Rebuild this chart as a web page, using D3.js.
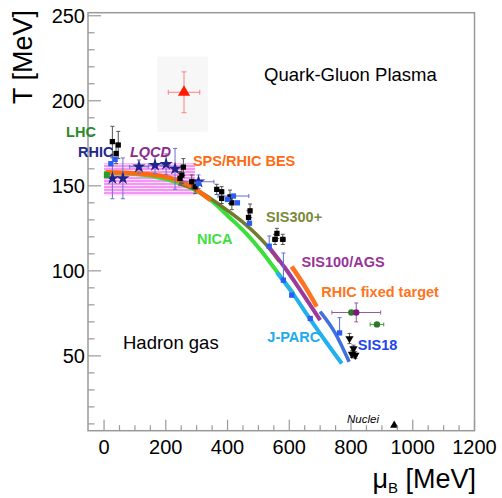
<!DOCTYPE html>
<html><head><meta charset="utf-8">
<script src="https://cdn.jsdelivr.net/npm/d3@7"></script>
<style>body{margin:0;background:#fff}svg{display:block;font-family:"Liberation Sans",Arial,Helvetica,sans-serif}</style>
</head><body><div id="chart"></div>
<script>
// ---------- data ----------
const xTicks = [0, 200, 400, 600, 800, 1000, 1200];
const yTicks = [50, 100, 150, 200, 250];
// freeze-out / facility curves  [muB, T]
const curveNICA   = [[0,157.5],[100,157],[200,154],[295,147.5],[350,141],[403,132],[460,122],[510,111.5],[554,101],[614,86.5]];
const curveSIS300 = [[250,151],[300,147.5],[392,136.5],[457,127.5],[522,116],[568,105.5]];
const curveBES    = [[5,158],[133,157],[219,154.4],[284,149.5],[327,144],[345,141.5]];
const curveSIS100 = [[530,115],[587,101.5],[640,87.5],[700,71]];
const curveRHICFT = [[608,102.5],[650,91],[689,79]];
const curveJPARC  = [[560,99],[610,87],[668,71.5],[720,58],[770,45.5]];
const curveSIS18  = [[700,76],[750,63],[794,46.5]];
// LQCD band [muMin, muMax, Tmin, Tmax]
const lqcdBand = [0, 295, 144.5, 163.2];
// points: [muB, T, muErr, TerrLow, TerrHigh]
const lqcdStars = [[27,154.4,0,12,12],[61,154.4,0,12,12],[113,161.2,30,4,4],[165,162.2,20,5,5],[201,162.8,12,6,6],[230,160,0,12,12],[306,152.4,50,4,4]];
const blueSquares = [[22,163,0,0,0],[36,165.5,0,0,0],[306,151.4,0,0,0],[400,142,0,0,0],[419,144,50,0,0],[432,140,0,0,0],[471,128,0,0,0],[535,114.5,0,0,6],[581,94.5,0,0,16],[608,85.7,0,0,0],[668,72,0,0,0],[763,63.5,0,0,9]];
const blackPoints = [[27,176,0,9,9],[39,169,0,6,6],[46,174,0,8,8],[246,154.4,0,4,4],[252,156.3,0,5,5],[257,161,0,5,5],[284,152.4,0,4,4],[295,149.4,0,4,4],[365,147.9,0,3,3],[381,146.5,0,3,3],[381,142.6,0,3,3],[408,143.5,0,4,4],[414,140,0,4,4],[473,135.3,0,4,4],[468,131.4,0,4,4],[560,122,0,3,3],[554,118.5,8,3,3],[579,118.5,8,3,3]];
const blackTriangles = [[795,60.2,0,3,3],[803,51,5,2,2],[808,54.3,5,2,2],[814,50.4,5,2,2]];
const greenPoints = [[9,156.3,0,0,0],[801,75.5,0,0,0],[884,68.5,22,0,0]];
const purplePoints = [[817,75.5,79,5.5,5.6]];
const redPoint = [[259,205,51,12,12]];
const nucleiPoint = [[940,9.2]];

// ---------- layout ----------
const W = 502, H = 498;
const L = 88, R = 474.5, T0 = 12.7, B = 430.7;
const svg = d3.select("#chart").append("svg").attr("width", W).attr("height", H);
const x = d3.scaleLinear().domain([-52, 1200]).range([L, R]);
const y = d3.scaleLinear().domain([6, 251.8]).range([B, T0]);

const defs = svg.append("defs");
const pat = defs.append("pattern").attr("id","hatch").attr("patternUnits","userSpaceOnUse").attr("width",6).attr("height",3);
pat.append("rect").attr("width",6).attr("height",3).attr("fill","#fcdffc");
pat.append("line").attr("x1",0).attr("x2",6).attr("y1",1).attr("y2",1).attr("stroke","#ee4cee").attr("stroke-width",1);

// legend-like pad behind red point
svg.append("rect").attr("x", x(172)).attr("y", y(226)).attr("width", x(336)-x(172)).attr("height", y(181.8)-y(226)).attr("fill","#f7f7f7");

// LQCD band
svg.append("rect").attr("x", x(lqcdBand[0])).attr("y", y(lqcdBand[3]))
  .attr("width", x(lqcdBand[1]) - x(lqcdBand[0])).attr("height", y(lqcdBand[2]) - y(lqcdBand[3]))
  .attr("fill","url(#hatch)");

// curves
const line = d3.line().x(d => x(d[0])).y(d => y(d[1])).curve(d3.curveMonotoneX);
const curveDefs = [
  [curveNICA, "#39e039", 4],
  [curveSIS300, "#717a30", 3.5],
  [curveBES, "#ff6a10", 4.5],
  [curveSIS100, "#9b3a9b", 4],
  [curveRHICFT, "#ff7420", 4.5],
  [curveJPARC, "#22b0ee", 4],
  [curveSIS18, "#3f6fe0", 3.5]
];
curveDefs.forEach(([data, col, w]) => {
  svg.append("path").datum(data).attr("d", line).attr("fill","none").attr("stroke", col).attr("stroke-width", w).attr("stroke-linecap","butt");
});

// error bars helper
function errBars(data, col, cap = 2) {
  const g = svg.append("g").attr("stroke", col).attr("stroke-width", 1).attr("fill","none");
  data.forEach(d => {
    const cx = x(d[0]), cy = y(d[1]);
    if (d[2]) {
      g.append("line").attr("x1", x(d[0]-d[2])).attr("x2", x(d[0]+d[2])).attr("y1", cy).attr("y2", cy);
      g.append("line").attr("x1", x(d[0]-d[2])).attr("x2", x(d[0]-d[2])).attr("y1", cy-cap).attr("y2", cy+cap);
      g.append("line").attr("x1", x(d[0]+d[2])).attr("x2", x(d[0]+d[2])).attr("y1", cy-cap).attr("y2", cy+cap);
    }
    if (d[3] || d[4]) {
      const lo = y(d[1]-(d[3]||0)), hi = y(d[1]+(d[4]||0));
      g.append("line").attr("x1", cx).attr("x2", cx).attr("y1", lo).attr("y2", hi);
      if (d[3]) g.append("line").attr("x1", cx-cap).attr("x2", cx+cap).attr("y1", lo).attr("y2", lo);
      if (d[4]) g.append("line").attr("x1", cx-cap).attr("x2", cx+cap).attr("y1", hi).attr("y2", hi);
    }
  });
}
function markers(data, type, size, col, rot = 0) {
  svg.append("g").selectAll("path").data(data).join("path")
    .attr("transform", d => `translate(${x(d[0])},${y(d[1])}) rotate(${rot})`)
    .attr("d", d3.symbol().type(type).size(size)).attr("fill", col);
}

errBars(lqcdStars, "#6f6fd0");
errBars(blackPoints, "#555");
errBars(blackTriangles, "#555");
errBars(blueSquares, "#5a6ee0");
errBars(greenPoints, "#4a9a4a");
errBars(purplePoints, "#9a5a9a");
errBars(redPoint, "#ff8080", 2.5);

markers(lqcdStars, d3.symbolStar, 55, "#22238a");
markers(blackPoints, d3.symbolSquare, 28, "#000");
markers(blackTriangles, d3.symbolTriangle, 30, "#000", 180);
markers(blueSquares, d3.symbolSquare, 28, "#2a5ef0");
markers(greenPoints.slice(0,1), d3.symbolSquare, 36, "#2a9a2a");
markers(greenPoints.slice(1), d3.symbolCircle, 32, "#2a7a2a");
markers(purplePoints, d3.symbolCircle, 32, "#7a1a7a");
markers(redPoint, d3.symbolTriangle, 64, "#ff1a00");
markers(nucleiPoint, d3.symbolTriangle, 30, "#000");

// frame
svg.append("rect").attr("x", L).attr("y", T0).attr("width", R-L).attr("height", B-T0)
  .attr("fill","none").attr("stroke","#999").attr("stroke-width",1.5);

// ticks (inside)
const tg = svg.append("g").attr("stroke","#999").attr("stroke-width",1.2);
d3.range(0, 1201, 50).forEach(v => {
  const len = xTicks.includes(v) ? 11 : 5.5;
  tg.append("line").attr("x1", x(v)).attr("x2", x(v)).attr("y1", B).attr("y2", B - len);
});
d3.range(10, 251, 10).forEach(v => {
  const len = yTicks.includes(v) ? 13 : 6.5;
  tg.append("line").attr("x1", L).attr("x2", L + len).attr("y1", y(v)).attr("y2", y(v));
});
// tick labels
svg.append("g").selectAll("text").data(xTicks).join("text")
  .attr("x", d => x(d)).attr("y", 454).attr("text-anchor","middle").attr("font-size",20).attr("fill","#000").text(d => d);
svg.append("g").selectAll("text").data(yTicks).join("text")
  .attr("x", 85).attr("y", d => y(d) + 7).attr("text-anchor","end").attr("font-size",20).attr("fill","#000").text(d => d);

// axis titles
svg.append("text").attr("transform","translate(32,10) rotate(-90)").attr("text-anchor","end")
  .attr("font-size",27).attr("fill","#000").text("T [MeV]");
const xt = svg.append("text").attr("x", 476).attr("y", 488).attr("text-anchor","end").attr("font-size",27).attr("fill","#000");
xt.append("tspan").text("μ");
xt.append("tspan").attr("font-size",15).attr("dy",5).text("B");
xt.append("tspan").attr("dy",-5).text(" [MeV]");

// region labels
svg.append("text").attr("x", 264).attr("y", 81).attr("font-size",18.5).attr("fill","#000").text("Quark-Gluon Plasma");
svg.append("text").attr("x", 123).attr("y", 349).attr("font-size",18.5).attr("fill","#000").text("Hadron gas");

// facility labels
const labs = [
  ["LHC", -123, 179, "#2a8a2a", "normal"],
  ["RHIC", -84, 166.9, "#1e2a8c", "normal"],
  ["LQCD", 84, 167, "#8a2c8a", "italic"],
  ["SPS/RHIC BES", 288, 161.6, "#ff6a13", "normal"],
  ["SIS300+", 525, 128.6, "#7a8a3a", "normal"],
  ["NICA", 301, 115.7, "#3ee03e", "normal"],
  ["SIS100/AGS", 640, 102.2, "#993399", "normal"],
  ["RHIC fixed target", 703.6, 84.5, "#ff7420", "normal"],
  ["J-PARC", 529, 58, "#22aaee", "normal"],
  ["SIS18", 822, 53.4, "#2244ee", "normal"]
];
svg.append("g").selectAll("text").data(labs).join("text")
  .attr("x", d => x(d[1])).attr("y", d => y(d[2])).attr("fill", d => d[3])
  .attr("font-style", d => d[4]).attr("font-weight","bold").attr("font-size",14.5).text(d => d[0]);
svg.append("text").attr("x", 347).attr("y", 423).attr("font-size",11.5).attr("font-style","italic").attr("fill","#000").text("Nuclei");
</script></body></html>
